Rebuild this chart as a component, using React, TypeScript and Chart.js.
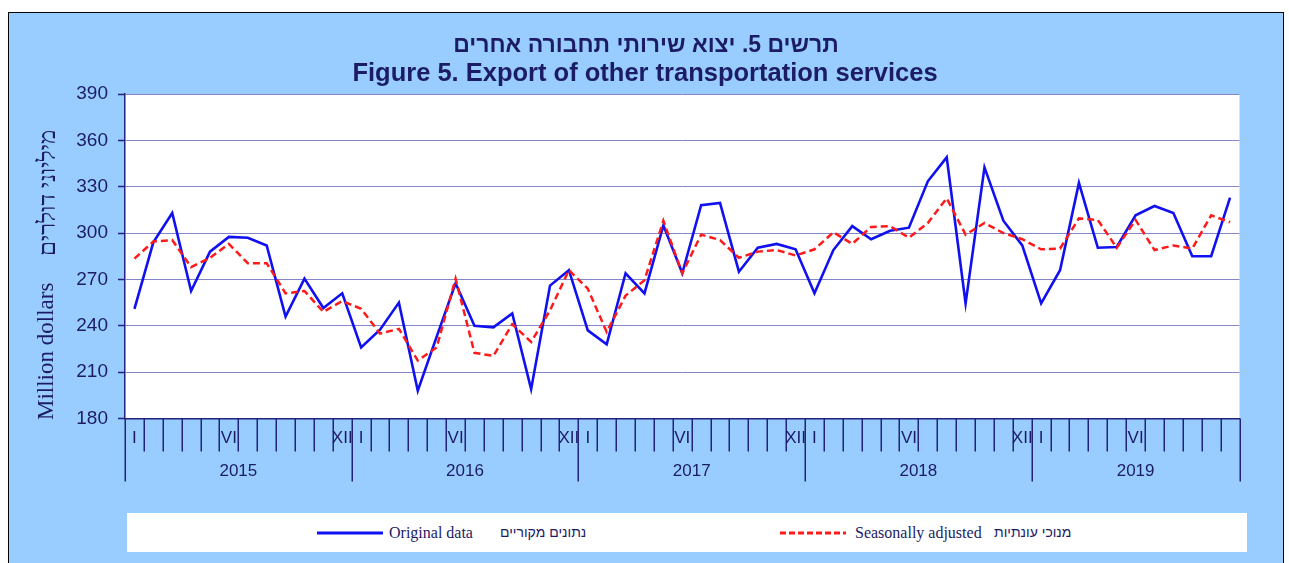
import React, { useEffect, useRef } from "react";
import { Chart, registerables } from "chart.js";

Chart.register(...registerables);

// ---- data ----
const years = ["2015", "2016", "2017", "2018", "2019"];
const monthsPerYear = [12, 12, 12, 12, 11];
const markedMonths = [0, 5, 11];
const markedMonthLabels = ["I", "VI", "XII"];

const originalData = [
  251, 294, 313, 262.5, 288, 297.5, 297, 292, 246, 270.5, 251.5, 261,
  226, 237.5, 255, 198, 233, 267.5, 240, 239, 248, 199, 266, 276,
  237, 228, 274, 261, 305, 274, 318, 319.5, 275, 290.5, 293, 289.5,
  261, 289, 304.5, 296, 301.5, 303.5, 333.5, 349, 254.5, 342.5, 308, 292,
  254.5, 276, 332.5, 290.5, 291, 311.5, 317.5, 313, 285, 285, 323,
];

const seasonalData = [
  283.5, 294.5, 295.5, 278, 284, 293, 280.5, 280.5, 261, 262.5, 249, 256,
  251, 235, 238, 217.5, 226, 270.5, 222.5, 220.5, 241, 229.5, 250, 276,
  264, 236, 259.5, 269.5, 308, 274, 299, 295.5, 284, 288, 289, 285.5,
  289.5, 300.5, 293, 304, 304.5, 297, 306.5, 322.5, 299, 306.5, 300, 296,
  289.5, 290, 309.5, 308.5, 290.5, 308.5, 289, 292, 290, 311.5, 307,
];

const yMin = 180;
const yMax = 390;
const yStep = 30;

const titleHebrew = "תרשים 5. יצוא שירותי תחבורה אחרים";
const titleEnglish = "Figure 5. Export of other transportation services";
const yTitleEnglish = "Million dollars";
const yTitleHebrew = "מיליוני דולרים";
const legendOriginal = "Original data";
const legendOriginalHe = "נתונים מקוריים";
const legendSeasonal = "Seasonally adjusted";
const legendSeasonalHe = "מנוכי עונתיות";

// ---- derived ----
const labels: string[] = [];
years.forEach((y, yi) => {
  for (let m = 0; m < monthsPerYear[yi]; m++) labels.push(`${y}-${m + 1}`);
});

const NAVY = "#22227f";
const TEXT = "#1c1c66";
const BLUE = "#1010f0";
const RED = "#ff1a1a";
const BG = "#99ccff";

const decorPlugin = {
  id: "decor",
  beforeDraw(chart: any) {
    const { ctx, chartArea } = chart;
    ctx.save();
    ctx.fillStyle = "#ffffff";
    ctx.fillRect(chartArea.left, chartArea.top, chartArea.right - chartArea.left, chartArea.bottom - chartArea.top);
    ctx.restore();
  },
  afterDraw(chart: any) {
    const { ctx, chartArea } = chart;
    const xs = chart.scales.x;
    const n = labels.length;
    const step = xs.getPixelForValue(1) - xs.getPixelForValue(0);
    const boundary = (i: number) =>
      i < n ? xs.getPixelForValue(i) - step / 2 : xs.getPixelForValue(n - 1) + step / 2;
    const bottom = chartArea.bottom;

    const yearStart: number[] = [];
    let acc = 0;
    monthsPerYear.forEach((c) => {
      yearStart.push(acc);
      acc += c;
    });
    yearStart.push(acc);

    ctx.save();
    ctx.strokeStyle = NAVY;
    ctx.lineWidth = 1.5;
    for (let i = 0; i <= n; i++) {
      const px = Math.round(boundary(i)) + 0.25;
      const isYear = yearStart.includes(i);
      ctx.beginPath();
      ctx.moveTo(px, bottom);
      ctx.lineTo(px, bottom + (isYear ? 63 : 33));
      ctx.stroke();
    }

    ctx.fillStyle = TEXT;
    ctx.font = "17px 'Liberation Sans', Arial, sans-serif";
    ctx.textAlign = "center";
    ctx.textBaseline = "middle";
    yearStart.slice(0, -1).forEach((s, yi) => {
      markedMonths.forEach((m, mi) => {
        if (m < monthsPerYear[yi]) {
          ctx.fillText(markedMonthLabels[mi], xs.getPixelForValue(s + m), bottom + 20);
        }
      });
      const cx = (boundary(s) + boundary(s + monthsPerYear[yi])) / 2;
      ctx.fillText(years[yi], cx, bottom + 53);
    });

    // titles
    ctx.fillStyle = TEXT;
    ctx.font = "bold 23px 'Liberation Sans', Arial, sans-serif";
    ctx.fillText(titleHebrew, 646, 46);
    ctx.font = "bold 25.5px 'Liberation Sans', Arial, sans-serif";
    ctx.fillText(titleEnglish, 645, 74);

    // y title (rotated)
    ctx.save();
    ctx.translate(47, 420);
    ctx.rotate(-Math.PI / 2);
    ctx.textAlign = "left";
    ctx.textBaseline = "middle";
    ctx.font = "23px 'Liberation Serif', 'Times New Roman', serif";
    ctx.fillText(yTitleEnglish, 0, 0);
    ctx.font = "24px 'Liberation Serif', 'DejaVu Serif', serif";
    ctx.fillText(yTitleHebrew, 164, 2);
    ctx.restore();

    ctx.restore();
  },
};

export default function App() {
  const ref = useRef<HTMLCanvasElement | null>(null);

  useEffect(() => {
    if (!ref.current) return;
    const chart = new Chart(ref.current, {
      type: "line",
      data: {
        labels,
        datasets: [
          {
            label: legendSeasonal,
            data: seasonalData,
            borderColor: RED,
            borderWidth: 2.5,
            borderDash: [7, 4],
            pointRadius: 0,
            tension: 0,
            fill: false,
            order: 0,
          },
          {
            label: legendOriginal,
            data: originalData,
            borderColor: BLUE,
            borderWidth: 2.6,
            pointRadius: 0,
            tension: 0,
            fill: false,
            order: 1,
          },
        ],
      },
      options: {
        responsive: false,
        animation: false,
        layout: { padding: { top: 94, left: 0, right: 49.5, bottom: 79.5 } },
        plugins: {
          legend: { display: false },
          title: { display: false },
          tooltip: { enabled: false },
        },
        scales: {
          x: {
            type: "category",
            offset: true,
            grid: { display: false },
            border: { display: true, color: NAVY, width: 1.5 },
            ticks: { display: false },
            afterFit: (s: any) => {
              s.height = 65;
            },
          },
          y: {
            min: yMin,
            max: yMax,
            ticks: {
              stepSize: yStep,
              color: TEXT,
              padding: 10,
              font: { size: 19, family: "'Liberation Sans', Arial, sans-serif" },
            },
            grid: {
              color: "#8585cc",
              lineWidth: 1,
              tickLength: 7,
              tickColor: NAVY,
              tickWidth: 1.5,
            },
            border: { display: true, color: NAVY, width: 1.5 },
            afterFit: (s: any) => {
              s.width = 125;
            },
          },
        },
      },
      plugins: [decorPlugin],
    });
    return () => chart.destroy();
  }, []);

  const legendText: React.CSSProperties = {
    position: "absolute",
    top: 0,
    height: 39,
    lineHeight: "39px",
    color: TEXT,
    whiteSpace: "nowrap",
  };

  return (
    <div style={{ position: "fixed", left: 0, top: 0, width: 1289, height: 563, overflow: "hidden", background: "#fff" }}>
      <div
        style={{
          position: "absolute",
          left: 8,
          top: 12,
          width: 1276,
          height: 560,
          background: BG,
          border: "1px solid #000",
          boxSizing: "border-box",
        }}
      />
      <canvas
        ref={ref}
        width={1289}
        height={563}
        style={{ position: "absolute", left: 0, top: 0, width: 1289, height: 563 }}
      />
      <div style={{ position: "absolute", left: 127, top: 513, width: 1120, height: 39, background: "#fff" }}>
        <svg style={{ position: "absolute", left: 190, top: 18 }} width={66} height={4}>
          <line x1={0} y1={2} x2={66} y2={2} stroke={BLUE} strokeWidth={3} />
        </svg>
        <span style={{ ...legendText, left: 262, fontFamily: "'Liberation Serif', 'Times New Roman', serif", fontSize: 16 }}>
          {legendOriginal}
        </span>
        <span dir="ltr" style={{ ...legendText, left: 373, fontFamily: "'Liberation Sans', Arial, sans-serif", fontSize: 14 }}>
          {legendOriginalHe}
        </span>
        <svg style={{ position: "absolute", left: 653, top: 18 }} width={66} height={4}>
          <line x1={0} y1={2} x2={66} y2={2} stroke={RED} strokeWidth={3} strokeDasharray="6 3" />
        </svg>
        <span style={{ ...legendText, left: 728, fontFamily: "'Liberation Serif', 'Times New Roman', serif", fontSize: 16 }}>
          {legendSeasonal}
        </span>
        <span dir="ltr" style={{ ...legendText, left: 867, fontFamily: "'Liberation Sans', Arial, sans-serif", fontSize: 14 }}>
          {legendSeasonalHe}
        </span>
      </div>
    </div>
  );
}
